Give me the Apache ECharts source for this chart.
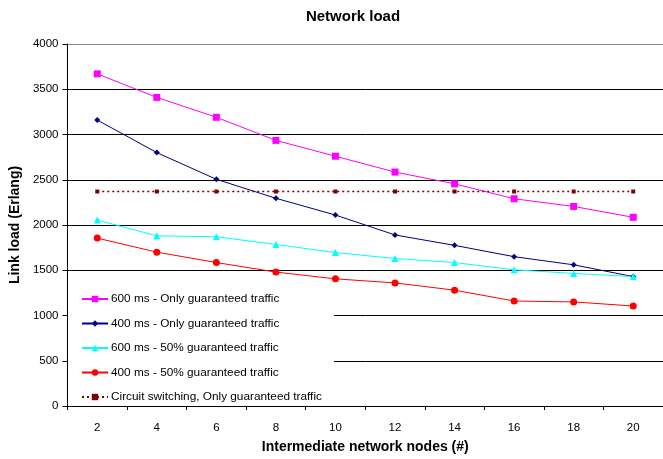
<!DOCTYPE html>
<html>
<head>
<meta charset="utf-8">
<script src="https://cdn.jsdelivr.net/npm/echarts@6/dist/echarts.min.js"></script>
<style>
  html, body { margin: 0; padding: 0; background: #fff; }
  #chart { width: 663px; height: 459px; }
</style>
</head>
<body>
<div id="chart"></div>
<script>
// Intermediate node counts on the x axis
const nodes = ['2', '4', '6', '8', '10', '12', '14', '16', '18', '20'];

// Link load (Erlang) per scenario
const only600 = [3670, 3410, 3190, 2935, 2760, 2585, 2455, 2290, 2205, 2085];
const only400 = [3160, 2800, 2505, 2295, 2110, 1890, 1775, 1650, 1560, 1430];
const half600 = [2055, 1880, 1870, 1785, 1695, 1630, 1585, 1505, 1465, 1430];
const half400 = [1855, 1700, 1585, 1480, 1405, 1360, 1280, 1160, 1150, 1105];
const circuit = [2370, 2370, 2370, 2370, 2370, 2370, 2370, 2370, 2370, 2370];

const seriesNames = [
  '600 ms - Only guaranteed traffic',
  '400 ms - Only guaranteed traffic',
  '600 ms - 50% guaranteed traffic',
  '400 ms - 50% guaranteed traffic',
  'Circuit switching, Only guaranteed traffic'
];

const font = 'Liberation Sans, Arial, sans-serif';

function lineSeries(name, data, color, symbol, size, dashed) {
  return {
    name: name,
    type: 'line',
    data: data,
    symbol: symbol,
    symbolSize: size,
    showSymbol: true,
    animation: false,
    z: 3,
    itemStyle: { color: color },
    lineStyle: { color: color, width: dashed ? 1.5 : 1, type: dashed ? [2, 3] : 'solid' },
    emphasis: { disabled: true }
  };
}

// gridlines from 0 up to 4000; the top one is drawn lighter
const gridColors = ['#000', '#000', '#000', '#000', '#000', '#000', '#000', '#000', '#888'];

const chart = echarts.init(document.getElementById('chart'), null, { renderer: 'canvas' });
chart.setOption({
  backgroundColor: '#fff',
  animation: false,
  title: {
    text: 'Network load',
    left: 348,
    textAlign: 'center',
    top: 4,
    textStyle: { fontFamily: font, fontSize: 15, fontWeight: 'bold', color: '#000' }
  },
  grid: { left: 64, top: 44, width: 600, height: 366, containLabel: false },
  legend: {
    orient: 'vertical',
    left: 66,
    top: 286,
    padding: [6, 12, 4, 15],
    backgroundColor: '#fff',
    itemWidth: 26,
    itemHeight: 8,
    itemGap: 10.5,
    data: seriesNames,
    textStyle: { fontFamily: font, fontSize: 11.8, lineHeight: 14, color: '#000', padding: [0, 0, 0, -2] },
    z: 10
  },
  xAxis: {
    type: 'category',
    data: nodes,
    boundaryGap: true,
    name: 'Intermediate network nodes (#)',
    nameLocation: 'middle',
    nameGap: 34,
    nameTextStyle: { fontFamily: font, fontSize: 14, fontWeight: 'bold', color: '#000' },
    axisLine: { lineStyle: { color: '#000', width: 1 } },
    axisTick: { show: true, length: 4, lineStyle: { color: '#000' } },
    axisLabel: { fontFamily: font, fontSize: 11.5, color: '#000', margin: 16 },
    splitLine: { show: false },
    z: 20
  },
  yAxis: [
    {
      // visible axis: line, ticks, labels and name, kept above the legend box
      type: 'value',
      min: 0,
      max: 4000,
      interval: 500,
      name: 'Link load (Erlang)',
      nameLocation: 'middle',
      nameGap: 35,
      nameTextStyle: { fontFamily: font, fontSize: 14, fontWeight: 'bold', color: '#000' },
      axisLine: { show: true, lineStyle: { color: '#000', width: 1 } },
      axisTick: { show: true, length: 5, lineStyle: { color: '#000' } },
      axisLabel: { fontFamily: font, fontSize: 11.5, color: '#000', margin: 9, formatter: v => String(v) },
      splitLine: { show: false },
      z: 20
    },
    {
      // gridlines only, drawn beneath the legend box
      type: 'value',
      min: 0,
      max: 4000,
      interval: 500,
      position: 'left',
      axisLine: { show: false },
      axisTick: { show: false },
      axisLabel: { show: false },
      splitLine: { show: true, lineStyle: { color: gridColors, width: 1 } },
      z: 0
    }
  ],
  series: [
    lineSeries(seriesNames[0], only600, '#ff00ff', 'rect', 7, false),
    lineSeries(seriesNames[1], only400, '#000080', 'diamond', 6, false),
    lineSeries(seriesNames[2], half600, '#00ffff', 'triangle', 7, false),
    lineSeries(seriesNames[3], half400, '#ff0000', 'circle', 7, false),
    lineSeries(seriesNames[4], circuit, '#800000', 'rect', 4, true)
  ]
});
</script>
</body>
</html>
